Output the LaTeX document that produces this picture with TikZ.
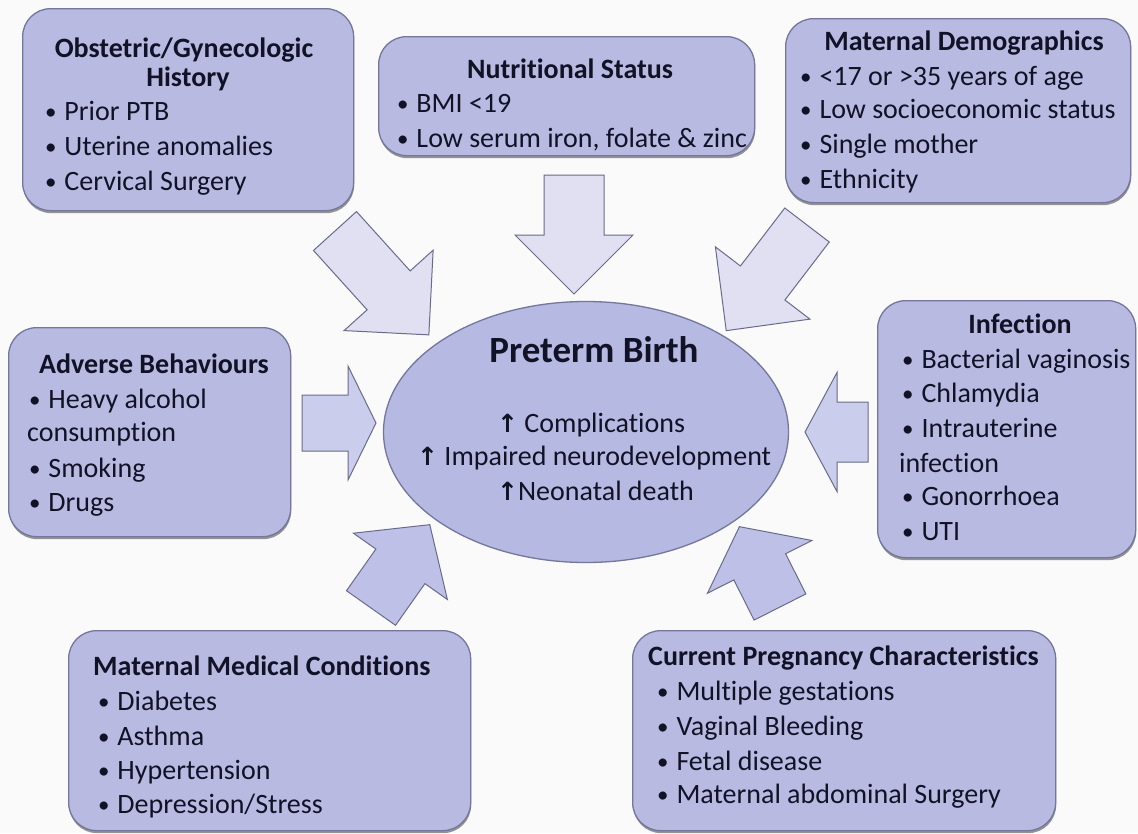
\documentclass[tikz,border=0pt]{standalone}
\usepackage{fontspec}
\setmainfont{Carlito}[Ligatures=CommonOff]
\newfontfamily\symfont{DejaVu Sans}
\usetikzlibrary{shapes.geometric,shadows}
\definecolor{bgc}{RGB}{250,250,251}
\definecolor{boxfill}{RGB}{184,186,226}
\definecolor{boxline}{RGB}{116,118,156}
\definecolor{ellfill}{RGB}{182,185,225}
\definecolor{arrtop}{RGB}{224,224,242}
\definecolor{arrmid}{RGB}{203,205,237}
\definecolor{arrbot}{RGB}{190,192,231}
\definecolor{arrline}{RGB}{105,107,138}
\definecolor{ink}{RGB}{18,18,38}
\newcommand{\blockarrow}[7]{%
  \draw[#1, shift={(#2)}, rotate=#3] (0,-#5/2) -- (#4-#7,-#5/2) -- (#4-#7,-#6/2) -- (#4,0)
    -- (#4-#7,#6/2) -- (#4-#7,#5/2) -- (0,#5/2) -- cycle;}
\newcommand{\bul}{{\fontsize{23}{23}\selectfont\raisebox{1pt}{•}}\hspace{0.28em}}
\newcommand{\upar}{{\symfont\bfseries\fontsize{25}{30}\selectfont ↑}}
\begin{document}
\begin{tikzpicture}[x=1pt,y=-1pt,
  box/.style={draw=boxline, line width=1.3pt, fill=boxfill, rounded corners=28pt,
    anchor=north west, inner sep=0pt,
    drop shadow={shadow xshift=0.5pt, shadow yshift=-2.5pt, opacity=0.55, fill=black!75}},
  arrA/.style={draw=arrline, line width=1pt, fill=arrtop, line join=miter},
  arrB/.style={draw=arrline, line width=1pt, fill=arrmid, line join=miter},
  arrC/.style={draw=arrline, line width=1pt, fill=arrbot, line join=miter},
  txt/.style={inner sep=0pt, font=\fontsize{28}{35}\selectfont, text=ink, anchor=base west},
  ttl/.style={inner sep=0pt, font=\fontsize{28}{35}\selectfont\bfseries, text=ink, anchor=base},
  ttlw/.style={ttl, anchor=base west}]
\useasboundingbox (0,0) rectangle (1138,833);
\fill[bgc] (0,0) rectangle (1138,833);

% block arrows: style, tail, angle, length, shaft width, head width, head length
\blockarrow{arrA}{335,231}{-47.9}{140}{58}{120}{60}
\blockarrow{arrA}{574,175}{-90}{119}{60}{118}{59}
\blockarrow{arrA}{807,225}{-127.4}{133}{56}{119}{60}
\blockarrow{arrB}{302,423}{0}{74}{56}{114}{28}
\blockarrow{arrB}{868,432}{180}{63}{60}{119}{32}
\blockarrow{arrC}{371,608}{54.8}{102}{60}{115}{51}
\blockarrow{arrC}{780,607}{116.8}{90}{58}{117}{45}

% centre ellipse
\node[ellipse, draw=boxline, line width=1.3pt, fill=ellfill, minimum width=405pt, minimum height=261pt, inner sep=0pt] (pb) at (586,432) {};
\node[ttl, font=\fontsize{37}{44}\selectfont\bfseries] (pbT) at (594,362) {Preterm Birth};
\node[txt] (pb1) at (497,432) {\upar\ Complications};
\node[txt] (pb2) at (417,465) {\upar\ Impaired neurodevelopment};
\node[txt] (pb3) at (497,500) {\upar Neonatal death};

% Obstetric/Gynecologic History
\node[box, minimum width=331pt, minimum height=202pt] (obs) at (22,8) {};
\node[ttl] (obsT1) at (184,57) {Obstetric/Gynecologic};
\node[ttl] (obsT2) at (188,86) {History};
\node[txt] (obs1) at (45,120) {\bul Prior PTB};
\node[txt] (obs2) at (45,155) {\bul Uterine anomalies};
\node[txt] (obs3) at (45,190) {\bul Cervical Surgery};

% Nutritional Status
\node[box, minimum width=376pt, minimum height=119pt] (nut) at (378,36) {};
\node[ttl] (nutT) at (570,78) {Nutritional Status};
\node[txt] (nut1) at (397,112) {\bul BMI <19};
\node[txt] (nut2) at (397,147) {\bul Low serum iron, folate \& zinc};

% Maternal Demographics
\node[box, minimum width=345pt, minimum height=184pt] (dem) at (785,18) {};
\node[ttl] (demT) at (964,50) {Maternal Demographics};
\node[txt] (dem1) at (800,85) {\bul <17 or >35 years of age};
\node[txt] (dem2) at (800,118) {\bul Low socioeconomic status};
\node[txt] (dem3) at (800,153) {\bul Single mother};
\node[txt] (dem4) at (800,188) {\bul Ethnicity};

% Adverse Behaviours
\node[box, minimum width=282pt, minimum height=209pt] (adv) at (8,327) {};
\node[ttl] (advT) at (154,373) {Adverse Behaviours};
\node[txt] (adv1) at (29,408) {\bul Heavy alcohol};
\node[txt] (adv2) at (27,441) {consumption};
\node[txt] (adv3) at (29,477) {\bul Smoking};
\node[txt] (adv4) at (29,511) {\bul Drugs};

% Infection
\node[box, minimum width=258pt, minimum height=257pt] (inf) at (877,300) {};
\node[ttl] (infT) at (1020,333) {Infection};
\node[txt] (inf1) at (902,368) {\bul Bacterial vaginosis};
\node[txt] (inf2) at (902,402) {\bul Chlamydia};
\node[txt] (inf3) at (902,437) {\bul Intrauterine};
\node[txt] (inf4) at (899,472) {infection};
\node[txt] (inf5) at (902,505) {\bul Gonorrhoea};
\node[txt] (inf6) at (902,540) {\bul UTI};

% Maternal Medical Conditions
\node[box, minimum width=402pt, minimum height=200pt] (med) at (68,630) {};
\node[ttlw] (medT) at (93,675) {Maternal Medical Conditions};
\node[txt] (med1) at (98,710) {\bul Diabetes};
\node[txt] (med2) at (98,745) {\bul Asthma};
\node[txt] (med3) at (98,779) {\bul Hypertension};
\node[txt] (med4) at (98,813) {\bul Depression/Stress};

% Current Pregnancy Characteristics
\node[box, minimum width=423pt, minimum height=200pt] (cur) at (632,630) {};
\node[ttlw] (curT) at (648,665) {Current Pregnancy Characteristics};
\node[txt] (cur1) at (657,700) {\bul Multiple gestations};
\node[txt] (cur2) at (657,735) {\bul Vaginal Bleeding};
\node[txt] (cur3) at (657,770) {\bul Fetal disease};
\node[txt] (cur4) at (657,803) {\bul Maternal abdominal Surgery};
\end{tikzpicture}
\end{document}
